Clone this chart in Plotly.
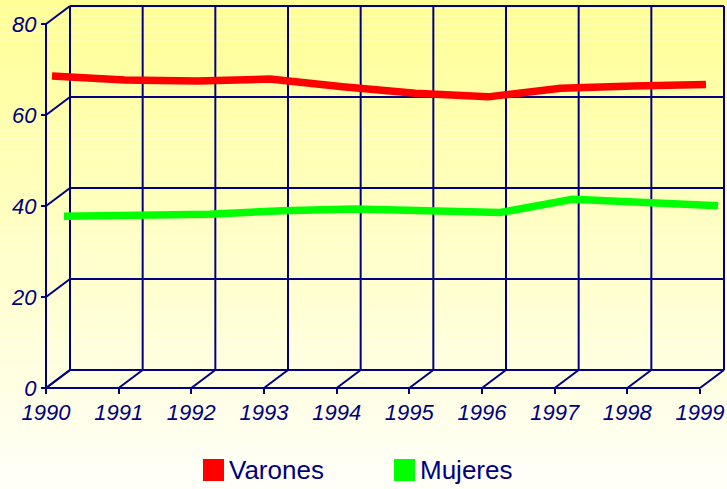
import plotly.graph_objects as go

years = [1990, 1991, 1992, 1993, 1994, 1995, 1996, 1997, 1998, 1999]
varones = [67.6, 66.7, 66.5, 66.9, 65.2, 63.8, 63.0, 64.9, 65.4, 65.7]
mujeres = [34.8, 34.8, 35.2, 36.0, 36.4, 36.0, 35.6, 38.5, 37.8, 37.1]
y_ticks = [0, 20, 40, 60, 80]
series_names = ["Varones", "Mujeres"]
series_colors = ["#FF0000", "#00FF00"]
series_depth = [0.25, 0.75]  # position of each series along the 3D depth

NAVY = "#000080"
W, H = 727, 489
# front plane in pixels: 1990..1999 and 0..80
FX0, FX1 = 46, 700
FY0, FY1 = 388, 24
DEPTH_PX = (24, 18)

ux = (years[-1] - years[0]) / (FX1 - FX0)
uy = (y_ticks[-1] - y_ticks[0]) / (FY0 - FY1)
dx = DEPTH_PX[0] * ux
dy = DEPTH_PX[1] * uy


def ranges(d):
    xr = [years[0] - FX0 * ux - d * dx, years[0] + (W - FX0) * ux - d * dx]
    yr = [-(H - FY0) * uy - d * dy, FY0 * uy - d * dy]
    return xr, yr


fig = go.Figure()

for i, (name, vals) in enumerate(zip(series_names, [varones, mujeres])):
    n = i + 2
    fig.add_trace(go.Scatter(
        x=years, y=vals, name=name, mode="lines",
        line=dict(color=series_colors[i], width=7.5),
        xaxis=f"x{n}", yaxis=f"y{n}", showlegend=False,
        hoverinfo="x+y",
    ))

shapes = []

# background gradient
steps = 60
c0, c1 = (255, 255, 150), (255, 255, 248)
for k in range(steps):
    t = k / (steps - 1)
    col = tuple(round(a + (b - a) * t) for a, b in zip(c0, c1))
    shapes.append(dict(
        type="rect", xref="paper", yref="paper", layer="below",
        x0=0, x1=1, y0=1 - (k + 1) / steps, y1=1 - k / steps,
        line=dict(width=0), fillcolor="rgb(%d,%d,%d)" % col,
    ))

line = dict(color=NAVY, width=2)


def seg(x0, y0, x1, y1):
    shapes.append(dict(type="line", xref="x", yref="y", layer="below",
                       x0=x0, y0=y0, x1=x1, y1=y1, line=line))


for yr in years:
    seg(yr + dx, y_ticks[0] + dy, yr + dx, y_ticks[-1] + dy)
    seg(yr, y_ticks[0], yr + dx, y_ticks[0] + dy)
for v in y_ticks:
    seg(years[0] + dx, v + dy, years[-1] + dx, v + dy)
    seg(years[0], v, years[0] + dx, v + dy)
seg(years[0], y_ticks[0], years[0], y_ticks[-1])
seg(years[0], y_ticks[0], years[-1], y_ticks[0])

# legend keys
key_x = [203, 394]
annotations = []
for i, name in enumerate(series_names):
    shapes.append(dict(
        type="rect", xref="paper", yref="paper",
        x0=key_x[i] / W, x1=(key_x[i] + 21) / W,
        y0=1 - 481 / H, y1=1 - 459 / H,
        line=dict(width=0), fillcolor=series_colors[i],
    ))
    annotations.append(dict(
        xref="paper", yref="paper", x=(key_x[i] + 24) / W, y=1 - 470 / H,
        xanchor="left", yanchor="middle", showarrow=False, text=name,
        font=dict(family="Liberation Sans, Arial", size=26, color=NAVY),
    ))

tick_font = dict(family="Liberation Sans, Arial", size=22, color=NAVY, style="italic")
xr, yr = ranges(0)
fig.update_layout(
    width=W, height=H,
    margin=dict(l=0, r=0, t=0, b=0),
    paper_bgcolor="rgba(0,0,0,0)", plot_bgcolor="rgba(0,0,0,0)",
    showlegend=False,
    shapes=shapes, annotations=annotations,
    xaxis=dict(range=xr, domain=[0, 1], anchor="free", position=(H - FY0) / H,
               showgrid=False, zeroline=False, showline=False,
               tickvals=years, ticks="outside", ticklen=5, tickwidth=2,
               tickcolor=NAVY, tickfont=tick_font, fixedrange=True),
    yaxis=dict(range=yr, domain=[0, 1], anchor="free", position=FX0 / W,
               showgrid=False, zeroline=False, showline=False,
               tickvals=y_ticks, ticks="outside", ticklen=5, tickwidth=2,
               tickcolor=NAVY, tickfont=tick_font, fixedrange=True),
)
for i, d in enumerate(series_depth):
    n = i + 2
    xr, yr = ranges(d)
    fig.update_layout(**{
        f"xaxis{n}": dict(range=xr, overlaying="x", anchor=f"y{n}", visible=False,
                          fixedrange=True),
        f"yaxis{n}": dict(range=yr, overlaying="y", anchor=f"x{n}", visible=False,
                          fixedrange=True),
    })

fig.write_html("out.html", config={"displayModeBar": False},
               post_script="document.body.style.margin='0';")
